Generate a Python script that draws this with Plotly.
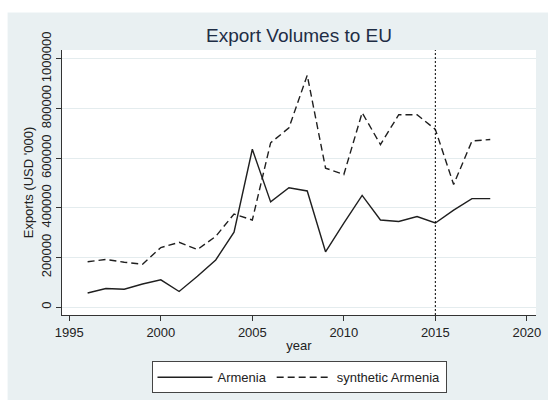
import plotly.graph_objects as go

years = list(range(1996, 2019))
armenia = [57000, 75000, 72000, 93000, 110000, 63000, 124000, 190000, 302000,
           636000, 424000, 481000, 468000, 223000, 338000, 450000, 351000,
           345000, 365000, 339000, 391000, 437000, 437000]
synthetic = [183000, 192000, 181000, 173000, 240000, 261000, 232000, 285000, 375000,
             351000, 662000, 722000, 934000, 560000, 534000, 783000, 655000,
             775000, 775000, 716000, 494000, 669000, 675000]
treatment_year = 2015
x_ticks = [1995, 2000, 2005, 2010, 2015, 2020]
y_ticks = [0, 200000, 400000, 600000, 800000, 1000000]

FONT = "Liberation Sans, Arial, sans-serif"
BG = "#e9f0f2"
INK = "#1f1f1f"

fig = go.Figure()
fig.add_trace(go.Scatter(x=years, y=armenia, mode="lines", name="Armenia",
                         line=dict(color=INK, width=1.4)))
fig.add_trace(go.Scatter(x=years, y=synthetic, mode="lines", name="synthetic Armenia",
                         line=dict(color=INK, width=1.4, dash="7px,4px")))

# Treatment year marker
fig.add_shape(type="line", xref="x", yref="paper", x0=treatment_year, x1=treatment_year,
              y0=0, y1=1, line=dict(color="black", width=1, dash="2px,2px"))

# White page border around the graph region
fig.add_shape(type="rect", xref="paper", yref="paper", x0=-0.14, x1=1.1,
              y0=1.1413, y1=1.2, fillcolor="white", line_width=0, layer="below")
fig.add_shape(type="rect", xref="paper", yref="paper", x0=-0.14, x1=-0.1148,
              y0=-0.4, y1=1.2, fillcolor="white", line_width=0, layer="below")

fig.update_layout(
    width=548, height=400,
    margin=dict(l=62, r=7, t=50, b=81),
    paper_bgcolor=BG, plot_bgcolor="white",
    font=dict(family=FONT, size=13, color="#222222"),
    title=dict(text="Export Volumes to EU", x=0.5, xref="paper", xanchor="center",
               y=0.912, yanchor="middle",
               font=dict(family=FONT, size=19, color="#1e2d45")),
    showlegend=True,
    legend=dict(orientation="h", x=0.5, xanchor="center", y=-0.1747, yanchor="top",
                bgcolor="white", bordercolor="#444444", borderwidth=1,
                font=dict(family=FONT, size=13, color="#222222"),
                itemwidth=55),
)

fig.update_xaxes(range=[1994.6, 2020.5], tickvals=x_ticks, showgrid=False,
                 showline=True, linecolor="#333333", linewidth=1,
                 ticks="outside", ticklen=5, tickcolor="#333333",
                 tickfont=dict(size=13, color="#222222"), zeroline=False,
                 title=dict(text="year", standoff=2, font=dict(size=13, color="#222222")))
fig.update_yaxes(range=[-31700, 1035700], tickvals=y_ticks,
                 ticktext=[str(v) for v in y_ticks], tickangle=-90,
                 showgrid=True, gridcolor="#e4ecee", gridwidth=1,
                 showline=True, linecolor="#333333", linewidth=1,
                 ticks="outside", ticklen=5, tickcolor="#333333",
                 tickfont=dict(size=13, color="#222222"), zeroline=False,
                 title=dict(text="Exports (USD '000)", standoff=2,
                            font=dict(size=13, color="#222222")))

fig.write_html("out.html")
